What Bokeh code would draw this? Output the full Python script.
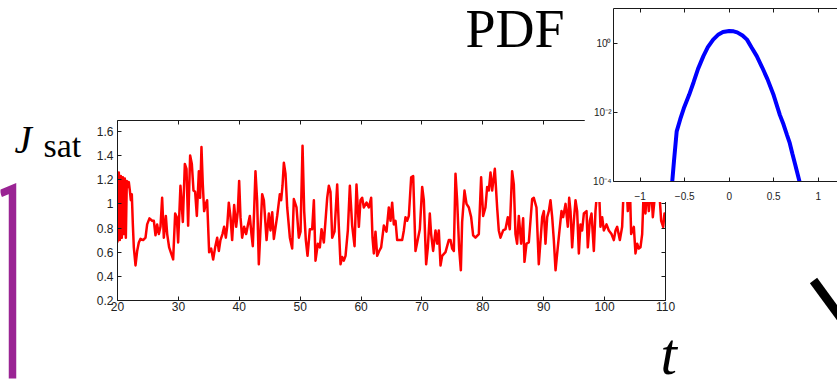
from bokeh.plotting import figure
from bokeh.models import Range1d, LinearAxis, FixedTicker
from bokeh.embed import file_html
from bokeh.resources import INLINE
from bokeh.core.properties import value

# ---------------- data ----------------
t = [20.00, 20.22, 20.38, 20.55, 20.71, 20.88, 21.04, 21.20, 21.37, 21.53, 21.70, 21.86, 22.03, 22.19, 22.35,
     22.52, 22.68, 22.96, 23.23, 23.50, 23.78, 24.21, 24.60, 24.87, 25.25, 25.69, 25.97, 26.24, 26.51, 26.79,
     27.06, 27.33, 27.61, 27.94, 28.16, 28.48, 28.81, 29.14, 29.47, 29.74, 29.96, 30.34, 30.73, 31.06, 31.33,
     31.60, 31.93, 32.21, 32.48, 32.75, 33.03, 33.36, 33.57, 33.79, 34.01, 34.23, 34.50, 34.72, 35.05, 35.38,
     35.71, 36.04, 36.37, 36.64, 36.91, 37.24, 37.51, 37.79, 38.01, 38.28, 38.56, 38.83, 39.16, 39.49, 39.76,
     39.98, 40.20, 40.47, 40.80, 41.13, 41.40, 41.73, 42.00, 42.22, 42.44, 42.66, 42.93, 43.21,
     43.76, 44.04, 44.48, 44.86, 45.13, 45.41, 45.68, 46.23, 46.66, 46.88, 47.10, 47.32, 47.59, 47.87, 48.31,
     48.69, 48.96, 49.40, 49.78, 50.06, 50.39, 50.66, 50.93, 51.21, 51.59, 51.97, 52.25, 52.52, 52.90, 53.23,
     53.51, 53.89, 54.16, 54.44, 54.71, 54.98, 55.26, 55.64, 56.08, 56.35, 56.63, 56.90, 57.17, 57.45, 57.83,
     58.16, 58.54, 58.93, 59.25, 59.64, 59.91, 60.18, 60.46, 60.90, 61.28, 61.66, 61.88, 62.10, 62.37, 62.65,
     62.98, 63.30, 63.74, 64.18, 64.56, 64.84, 65.11, 65.38, 65.66, 65.93, 66.31, 66.75, 67.03, 67.30, 67.57,
     67.85, 68.23, 68.56, 68.94, 69.22, 69.65, 70.04, 70.31, 70.69, 70.97, 71.29, 71.51, 71.84, 72.23, 72.50,
     72.77, 73.05, 73.32, 73.87, 74.41, 74.69, 74.96, 75.24, 75.51, 75.78, 76.11, 76.39, 76.60, 76.99, 77.32,
     77.70, 78.08, 78.41, 78.79, 79.34, 79.72, 80.05, 80.43, 80.71, 80.98, 81.26, 81.53, 81.97, 82.35, 82.62,
     82.90, 83.34, 83.72, 84.10, 84.43, 84.81, 85.09, 85.36, 85.63, 85.91, 86.29, 86.62, 86.84, 87.17, 87.55,
     88.10, 88.37, 88.81, 89.19,
     89.75, 90.02, 90.29, 90.57, 90.84, 91.11, 91.39, 91.66, 91.94, 92.21, 92.59, 92.92, 93.19, 93.58, 93.96,
     94.18, 94.40, 94.67, 94.95, 95.22, 95.49, 95.77, 96.04, 96.31, 96.59, 97.03, 97.24, 97.57, 97.85, 98.23,
     98.50, 98.78, 99.05, 99.32, 99.60, 99.87, 100.31, 100.69, 101.13, 101.51, 101.79, 102.06, 102.50, 102.88,
     103.16, 103.54, 103.81, 104.14, 104.36, 104.80, 105.07, 105.35, 105.62, 105.89, 106.17, 106.44, 106.71,
     106.99, 107.26, 107.64, 107.92, 108.19, 108.52, 108.90, 109.29, 109.62, 109.83, 110.00]

jsat = [0.68, 1.26, 0.70, 1.23, 0.72, 1.22, 0.75, 1.21, 0.72, 1.19, 1.14, 1.18, 1.11, 1.03, 1.08,
        0.83, 0.64, 0.49, 0.61, 0.68, 0.71, 0.70, 0.72, 0.83, 0.88, 0.86, 0.86, 0.74, 0.83, 0.75,
        0.81, 1.05, 0.72, 0.90, 0.75, 0.64, 0.59, 0.54, 0.92, 0.89, 0.68, 1.15, 0.85, 1.33, 1.29,
        0.82, 1.40, 1.33, 1.11, 1.10, 0.90, 1.27, 1.05, 1.47, 1.16, 0.94, 1.00, 1.03, 0.60, 0.63,
        0.54, 0.64, 0.72, 0.61, 0.70, 0.75, 0.81, 0.72, 0.81, 1.01, 0.89, 0.70, 0.99, 0.81, 0.94,
        1.19, 0.89, 0.72, 0.81, 0.75, 0.82, 0.90, 0.75, 0.65, 0.94, 1.27, 1.03, 0.50,
        1.08, 1.03, 0.70, 0.92, 0.78, 0.93, 0.71, 0.90, 1.08, 1.03, 1.15, 1.34, 1.25, 0.97, 0.72,
        0.63, 1.04, 0.97, 0.72, 0.77, 1.48, 0.94, 0.70, 0.57, 0.79, 0.79, 1.03, 0.53, 0.67, 0.64,
        0.79, 0.68, 0.86, 1.05, 1.15, 1.10, 0.72, 0.77, 1.16, 0.81, 0.50, 0.56, 0.53, 0.57, 0.78,
        1.15, 0.82, 0.65, 1.16, 0.81, 1.03, 1.05, 0.97, 1.01, 0.97, 1.05, 0.72, 0.59, 0.77, 0.57,
        0.61, 0.64, 0.82, 0.77, 0.97, 0.86, 1.01, 0.83, 0.86, 0.70, 0.70, 0.70, 0.78, 0.89, 0.86,
        0.90, 1.22, 1.23, 0.61, 0.68, 0.79, 1.14, 1.03, 0.50, 0.64, 0.92, 0.75, 0.61, 0.78, 0.67,
        0.78, 0.49, 0.57, 0.60, 0.70, 0.70, 0.63, 0.61, 1.25, 1.03, 0.63, 0.45, 0.85, 1.11, 1.00,
        0.97, 0.89, 0.74, 0.72, 0.75, 1.22, 0.90, 0.97, 1.14, 1.11, 1.26, 1.11, 1.29, 0.97, 0.78,
        0.72, 0.78, 0.79, 0.89, 0.79, 1.27, 1.16, 0.75, 0.67, 0.90, 0.67, 0.88, 0.52, 0.67, 0.68,
        1.04, 1.05, 0.97, 0.50,
        0.89, 0.94, 0.67, 0.89, 0.94, 1.03, 0.89, 0.70, 0.45, 0.59, 0.78, 0.94, 0.89, 1.00, 0.81,
        1.05, 0.94, 0.64, 0.86, 1.03, 0.94, 0.59, 0.83, 0.78, 0.92, 0.94, 0.64, 0.86, 0.92, 0.61,
        0.94, 1.11, 1.16, 0.81, 0.89, 0.78, 0.83, 0.78, 0.75, 0.70, 0.78, 0.81, 0.70, 0.81,
        1.16, 1.22, 0.94, 1.16, 0.75, 0.81, 0.59, 0.67, 0.63, 0.64, 0.75, 1.14, 0.92,
        1.16, 0.94, 1.14, 0.89, 1.03, 1.11, 1.16, 0.86, 0.81, 0.92, 0.90]

pdf_x = [-0.64, -0.62, -0.59, -0.55, -0.51, -0.45, -0.40, -0.35, -0.29, -0.24, -0.18, -0.12, -0.07, 0.0,
         0.05, 0.09, 0.15, 0.20, 0.25, 0.31, 0.37, 0.43, 0.50, 0.57, 0.61, 0.65, 0.68, 0.71, 0.74, 0.76, 0.79]
pdf_y = [1.0e-4, 4.0e-4, 2.8e-3, 6.3e-3, 0.013, 0.032, 0.074, 0.18, 0.42, 0.76, 1.26, 1.78, 2.09, 2.24,
         2.19, 2.04, 1.66, 1.26, 0.76, 0.42, 0.20, 0.091, 0.031, 8.3e-3, 4.5e-3, 2.2e-3, 1.3e-3, 6.3e-4,
         3.2e-4, 2.0e-4, 1.0e-4]

main_xticks = [20, 30, 40, 50, 60, 70, 80, 90, 100, 110]
main_yticks = [0.2, 0.4, 0.6, 0.8, 1, 1.2, 1.4, 1.6]
main_ylabels = ["0.2", "0.4", "0.6", "0.8", "1", "1.2", "1.4", "1.6"]
pdf_xticks = [-1, -0.5, 0, 0.5, 1]
pdf_xlabels = ["\u22121", "\u22120.5", "0", "0.5", "1"]
pdf_yticks = [1e-4, 1e-2, 1]
pdf_ylabels = ["10\u207b\u2074", "10\u207b\u00b2", "10\u2070"]

AXC = "#1a1a1a"
TICKFONT = "Liberation Sans"


def style_axis(ax, ticks, labels=None, size="12px", standoff=4):
    ax.ticker = FixedTicker(ticks=ticks)
    ax.axis_line_color = AXC
    ax.axis_line_width = 1
    ax.major_tick_line_color = AXC
    ax.major_tick_in = 4
    ax.major_tick_out = 0
    ax.minor_tick_in = 0
    ax.minor_tick_out = 0
    ax.major_label_text_font = TICKFONT
    ax.major_label_text_font_size = size
    ax.major_label_standoff = standoff
    if labels is None:
        ax.major_label_text_color = None
    else:
        ax.major_label_text_color = "#222222"
        ax.major_label_overrides = {k: v for k, v in zip(ticks, labels)}


def place(fig, left, top):
    fig.styles = {"position": "absolute", "left": f"{left}px", "top": f"{top}px"}


# ---------------- main time series ----------------
main = figure(width=837, height=387, x_range=Range1d(20, 110), y_range=Range1d(0.2, 1.69),
              output_backend="svg", toolbar_location=None,
              min_border_left=117, min_border_right=172, min_border_top=120, min_border_bottom=87)
main.grid.grid_line_color = None
main.outline_line_color = None
main.background_fill_color = "white"
main.border_fill_color = "white"
style_axis(main.xaxis[0], main_xticks, [str(v) for v in main_xticks], standoff=1)
style_axis(main.yaxis[0], main_yticks, main_ylabels, standoff=4)
top_ax = LinearAxis()
right_ax = LinearAxis()
main.add_layout(top_ax, "above")
main.add_layout(right_ax, "right")
style_axis(top_ax, main_xticks)
style_axis(right_ax, main_yticks)
main.line(t, jsat, line_color="#ff0000", line_width=2.5, line_join="round")
place(main, 0, 0)

# ---------------- decorations layer ----------------
deco = figure(width=837, height=387, x_range=Range1d(0, 837), y_range=Range1d(387, 0),
              output_backend="svg", toolbar_location=None, min_border=0,
              x_axis_location=None, y_axis_location=None)
deco.grid.visible = False
deco.outline_line_color = None
deco.background_fill_alpha = 0
deco.border_fill_alpha = 0
deco.line(x=[0, 12, 12], y=[193, 188, 378], line_color="#9a2494", line_width=7.5, line_join="miter")
deco.line(x=[813, 846], y=[280, 325], line_color="black", line_width=9, line_cap="butt")
deco.text(x=[14], y=[139], text=["J"], text_font=value("Liberation Serif"), text_font_style="italic",
          text_font_size="39px", text_baseline="alphabetic", text_color="black")
deco.text(x=[43], y=[145], text=["sat"], text_font=value("Liberation Serif"),
          text_font_size="34px", text_baseline="alphabetic", text_color="black")
deco.text(x=[465], y=[28], text=["PDF"], text_font=value("Liberation Serif"),
          text_font_size="54px", text_baseline="alphabetic", text_color="black")
deco.text(x=[660], y=[353], text=["t"], text_font=value("Liberation Serif"), text_font_style="italic",
          text_font_size="59px", text_baseline="alphabetic", text_color="black")
place(deco, 0, 0)

# ---------------- inset PDF ----------------
inset = figure(width=253, height=202, x_range=Range1d(-1.3, 1.217), y_range=Range1d(1e-4, 10),
               y_axis_type="log", output_backend="svg", toolbar_location=None,
               min_border_left=29, min_border_right=0, min_border_top=8, min_border_bottom=18)
inset.grid.grid_line_color = None
inset.outline_line_color = None
inset.background_fill_color = "white"
inset.border_fill_color = "white"
style_axis(inset.xaxis[0], pdf_xticks, pdf_xlabels, size="10px", standoff=10)
style_axis(inset.yaxis[0], pdf_yticks, pdf_ylabels, size="10px", standoff=2)
itop = LinearAxis()
inset.add_layout(itop, "above")
style_axis(itop, pdf_xticks)
inset.line(pdf_x, pdf_y, line_color="#0000ff", line_width=4)
place(inset, 584, 0)

open("out.html", "w").write(file_html([main, deco, inset], INLINE))
